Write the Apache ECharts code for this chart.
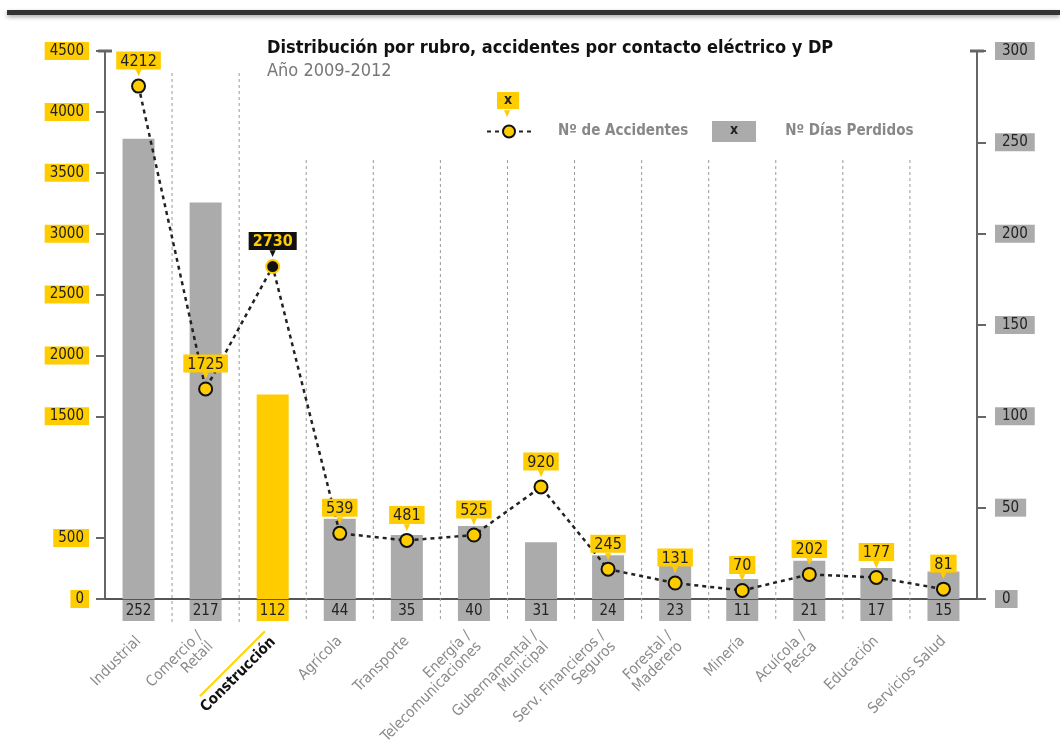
<!DOCTYPE html>
<html>
<head>
<meta charset="utf-8">
<script src="https://cdn.jsdelivr.net/npm/echarts@6/dist/echarts.min.js"></script>
<style>
  html, body { margin: 0; background: #fff; }
  #chart { width: 1060px; height: 750px; }
</style>
</head>
<body>
<div id="chart"></div>
<script>
// datos
const categories = ['Industrial', 'Comercio /\nRetail', 'Construcción', 'Agrícola', 'Transporte',
  'Energía /\nTelecomunicaciones', 'Gubernamental /\nMunicipal', 'Serv. Financieros /\nSeguros',
  'Forestal /\nMaderero', 'Minería', 'Acuícola /\nPesca', 'Educación', 'Servicios Salud']
const accidentes = [4212, 1725, 2730, 539, 481, 525, 920, 245, 131, 70, 202, 177, 81]
const diasPerdidos = [252, 217, 112, 44, 35, 40, 31, 24, 23, 11, 21, 17, 15]
const leftTicks = [0, 500, 1500, 2000, 2500, 3000, 3500, 4000, 4500]
const rightTicks = [0, 50, 100, 150, 200, 250, 300]
const highlight = 'Construcción'

const FONT = '"DejaVu Sans Condensed", "Liberation Sans Narrow", "Roboto", sans-serif'
const YELLOW = '#FFCC00'
const GRAY = '#ABABAB'

const chart = echarts.init(document.getElementById('chart'))

const option = {
  backgroundColor: '#fff',
  textStyle: { fontFamily: FONT },
  title: {
    left: 262,
    top: 34,
    text: 'Distribución por rubro, accidentes por contacto eléctrico y DP',
    subtext: 'Año 2009-2012',
    itemGap: 5,
    textStyle: { fontFamily: FONT, fontSize: 18, fontWeight: 'bold', color: '#111' },
    subtextStyle: { fontFamily: FONT, fontSize: 18, color: '#777' }
  },
  legend: {
    left: 486,
    top: 124,
    padding: 0,
    data: ['Nº de Accidentes', { name: 'Nº Días Perdidos', icon: 'rect', itemStyle: { opacity: 0 } }],
    itemWidth: 44,
    itemHeight: 15,
    itemGap: 26,
    textStyle: { fontFamily: FONT, fontSize: 15, fontWeight: 'bold', color: '#888', padding: [0, 0, 0, 22] }
  },
  grid: { left: 105, right: 83, top: 51, bottom: 151 },
  xAxis: {
    type: 'category',
    data: categories,
    axisLine: { lineStyle: { color: '#555', width: 2 } },
    axisTick: { show: false },
    axisLabel: {
      rotate: 45,
      margin: 40,
      interval: 0,
      color: '#8a8a8a',
      fontSize: 15,
      fontFamily: FONT,
      formatter: v => v === highlight ? '{ul|}\n{b|' + v + '}' : v,
      rich: {
        ul: { width: 92, height: 2, backgroundColor: '#FFD500' },
        b: { fontFamily: FONT, fontSize: 15, fontWeight: 'bold', color: '#111', lineHeight: 22 }
      }
    }
  },
  yAxis: [
    {
      type: 'value',
      position: 'left',
      min: 0,
      max: 4500,
      interval: 500,
      axisLine: { show: true, lineStyle: { color: '#666', width: 2 }, symbol: ['none', 'rect'], symbolSize: [14, 3] },
      axisTick: { show: true, length: 9, customValues: leftTicks, lineStyle: { color: '#666', width: 2 } },
      axisLabel: {
        customValues: leftTicks,
        formatter: v => String(v),
        margin: 16,
        backgroundColor: YELLOW,
        padding: [2, 5, 1, 5],
        color: '#222',
        fontSize: 15,
        fontFamily: FONT
      },
      splitLine: { show: false }
    },
    {
      type: 'value',
      position: 'right',
      min: 0,
      max: 300,
      interval: 50,
      axisLine: { show: true, lineStyle: { color: '#666', width: 2 }, symbol: ['none', 'rect'], symbolSize: [14, 3] },
      axisTick: { show: true, length: 9, customValues: rightTicks, lineStyle: { color: '#666', width: 2 } },
      axisLabel: {
        customValues: rightTicks,
        formatter: v => String(v),
        margin: 18,
        backgroundColor: GRAY,
        padding: [2, 7, 1, 7],
        color: '#222',
        fontSize: 15,
        fontFamily: FONT
      },
      splitLine: { show: false }
    }
  ],
  series: [
    {
      // separadores punteados entre rubros
      type: 'custom',
      silent: true,
      clip: false,
      z: 1,
      data: categories.slice(1).map((c, i) => [i, 0]),
      renderItem: (params, api) => {
        const i = api.value(0)
        const p = api.coord([i, 0])
        const x = p[0] + api.size([1, 0])[0] / 2
        const top = i < 2 ? 73 : 160
        return {
          type: 'line',
          shape: { x1: x, y1: top, x2: x, y2: p[1] + 23 },
          style: { stroke: '#9a9a9a', lineWidth: 1, lineDash: [3, 3] }
        }
      }
    },
    {
      name: 'Nº Días Perdidos',
      type: 'bar',
      yAxisIndex: 1,
      barWidth: 32,
      z: 2,
      itemStyle: { color: GRAY },
      label: {
        show: true,
        position: 'bottom',
        distance: 1,
        backgroundColor: GRAY,
        width: 32,
        height: 21,
        lineHeight: 22,
        color: '#222',
        fontSize: 15,
        fontFamily: FONT
      },
      data: diasPerdidos.map((v, i) => categories[i] === highlight
        ? { value: v, itemStyle: { color: YELLOW }, label: { backgroundColor: YELLOW } }
        : v)
    },
    {
      name: 'Nº de Accidentes',
      type: 'line',
      yAxisIndex: 0,
      z: 5,
      symbol: 'circle',
      symbolSize: 13,
      lineStyle: { color: '#222', width: 2.5, type: [4, 4] },
      itemStyle: { color: YELLOW, borderColor: '#111', borderWidth: 2 },
      label: {
        show: true,
        position: 'top',
        distance: 2,
        formatter: '{y|{c}}\n{ty|▼}',
        rich: {
          y: { backgroundColor: YELLOW, color: '#222', fontSize: 16, fontFamily: FONT, padding: [2, 4, 0, 4] },
          ty: { color: YELLOW, fontSize: 9, lineHeight: 7 },
          d: { backgroundColor: '#111', color: YELLOW, fontSize: 16, fontWeight: 'bold', fontFamily: FONT, padding: [2, 4, 0, 4] },
          td: { color: '#111', fontSize: 9, lineHeight: 7 }
        }
      },
      data: accidentes.map((v, i) => categories[i] === highlight
        ? { value: v, itemStyle: { color: '#111', borderColor: YELLOW }, label: { formatter: '{d|{c}}\n{td|▼}' } }
        : v)
    }
  ],
  graphic: [
    {
      type: 'rect',
      left: 7,
      top: 10,
      shape: { width: 1053, height: 5 },
      style: { fill: '#333', shadowBlur: 4, shadowOffsetY: 2, shadowColor: 'rgba(0,0,0,0.35)' }
    },
    {
      type: 'text',
      left: 497,
      top: 92,
      z: 100,
      style: { text: 'x', fill: '#222', font: 'bold 14px ' + FONT, backgroundColor: YELLOW, padding: [1, 7, 2, 7] }
    },
    {
      type: 'text',
      left: 504,
      top: 109,
      z: 100,
      style: { text: '▼', fill: YELLOW, font: '9px ' + FONT }
    },
    {
      // caja gris con "x" de la leyenda
      type: 'rect',
      left: 712,
      top: 121,
      z: 100,
      shape: { width: 44, height: 21 },
      style: { fill: GRAY }
    },
    {
      type: 'text',
      left: 730,
      top: 123,
      z: 101,
      style: { text: 'x', fill: '#222', font: 'bold 14px ' + FONT }
    }
  ]
}

chart.setOption(option)
</script>
</body>
</html>
